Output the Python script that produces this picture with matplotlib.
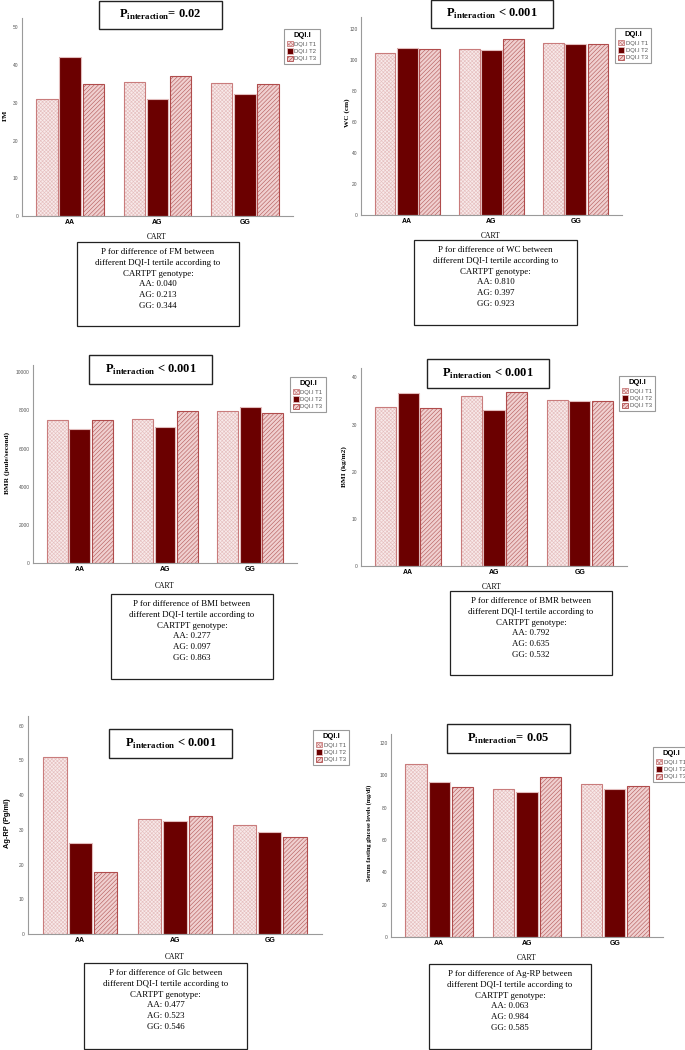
import matplotlib
matplotlib.use('Agg')
import matplotlib.pyplot as plt
import matplotlib.patches as mpatches
import numpy as np

plt.rcParams['hatch.linewidth'] = 0.45
plt.rcParams['mathtext.fontset'] = 'custom'
plt.rcParams['mathtext.bf'] = 'Liberation Serif:bold'
plt.rcParams['mathtext.rm'] = 'Liberation Serif'

W, H = 685, 1050

cats = ['AA', 'AG', 'GG']
tertiles = ['DQI.I T1', 'DQI.I T2', 'DQI.I T3']

# bar heights: rows T1, T2, T3 ; columns AA, AG, GG
fm = [[31.0, 35.6, 35.3], [42.2, 31.0, 32.4], [34.9, 37.2, 34.9]]
wc = [[104.7, 106.9, 110.8], [108.0, 106.5, 110.1], [106.9, 113.3, 110.1]]
bmr = [[7504, 7539, 7975], [7033, 7155, 8202], [7504, 7993, 7853]]
bmi = [[33.7, 36.0, 35.3], [36.8, 33.0, 34.9], [33.5, 37.0, 35.0]]
agrp = [[50.9, 33.2, 31.5], [26.3, 32.6, 29.3], [17.9, 34.1, 27.8]]
glc = [[107.2, 91.5, 94.6], [95.6, 89.9, 91.5], [92.8, 99.0, 93.4]]

ylabels = ['FM', 'WC (cm)', 'BMR (joule/second)', 'BMI (kg/m2)',
           'Ag-RP (Pg/ml)', 'Serum fasting glucose levels (mg/dl)']
yticks = [range(0, 51, 10), range(0, 121, 20), range(0, 10001, 2000),
          range(0, 41, 10), range(0, 61, 10), range(0, 121, 20)]
ymax = [52.5, 127.7, 10384, 42, 62.8, 125.6]
p_inter = ['= 0.02', ' < 0.001', ' < 0.001', ' < 0.001', ' < 0.001', '= 0.05']
diff_names = ['FM', 'WC', 'BMI', 'BMR', 'Glc', 'Ag-RP']
p_diff = [['0.040', '0.213', '0.344'], ['0.810', '0.397', '0.923'],
          ['0.277', '0.097', '0.863'], ['0.792', '0.635', '0.532'],
          ['0.477', '0.523', '0.546'], ['0.063', '0.984', '0.585']]
all_vals = [fm, wc, bmr, bmi, agrp, glc]

# pixel layout of each panel
# axes (x0, x1, ytop, ybot), title box, legend top-left, note box, ylabel centre, CART centre
layout = [
    dict(ax=(22, 293, 18, 216), tb=(99, 222, 1, 29), lg=(284, 29), nb=(77, 239, 242, 326), yl=(5, 115), xl=(157, 237)),
    dict(ax=(361, 622, 17, 215), tb=(431, 553, 0, 28), lg=(615, 28), nb=(414, 577, 240, 325), yl=(347, 113), xl=(491, 236)),
    dict(ax=(33, 297, 365, 563), tb=(89, 212, 355, 384), lg=(290, 377), nb=(111, 273, 594, 679), yl=(7, 463), xl=(165, 586)),
    dict(ax=(361, 627, 368, 566), tb=(427, 549, 359, 388), lg=(619, 376), nb=(450, 612, 591, 675), yl=(344, 467), xl=(492, 587)),
    dict(ax=(28, 322, 716, 934), tb=(109, 232, 729, 758), lg=(313, 730), nb=(84, 247, 963, 1049), yl=(8, 823), xl=(175, 957)),
    dict(ax=(391, 663, 734, 937), tb=(447, 570, 724, 753), lg=(653, 747), nb=(429, 591, 964, 1049), yl=(369, 833), xl=(527, 958)),
]

styles = [
    dict(fc='#f8eaea', hc='#e6c0c0', hatch='xxxxxxxxx', ec='#c97c7c'),
    dict(fc='#6b0000', hc='#6b0000', hatch=None, ec='#e2bcbc'),
    dict(fc='#f0d0d0', hc='#b86262', hatch='////////', ec='#b04c4c'),
]


def fx(x):
    return x / W


def fy(y):
    return 1 - y / H


fig = plt.figure(figsize=(W / 100, H / 100), dpi=100)

for k in range(6):
    L = layout[k]
    x0, x1, yt, yb = L['ax']
    ax = fig.add_axes([fx(x0), fy(yb), (x1 - x0) / W, (yb - yt) / H])
    vals = all_vals[k]
    xs = np.arange(len(cats))
    for i in range(3):
        s = styles[i]
        pos = xs + (i - 1) * 0.265
        ax.bar(pos, vals[i], width=0.245, color=s['fc'], hatch=s['hatch'],
               edgecolor=s['hc'], linewidth=0)
        ax.bar(pos, vals[i], width=0.245, fill=False, edgecolor=s['ec'], linewidth=0.8)
    ax.set_xlim(-0.55, 2.55)
    ax.set_ylim(0, ymax[k])
    ax.set_yticks(list(yticks[k]))
    ax.set_xticks(xs)
    ax.set_xticklabels(cats, fontsize=5, fontweight='bold', family='Liberation Sans')
    ax.tick_params(axis='y', length=0, labelsize=3.5, labelcolor='#555555', pad=2.5)
    ax.tick_params(axis='x', length=0, pad=2.5)
    for t in ax.get_yticklabels():
        t.set_family('Liberation Sans')
    for sp in ['top', 'right']:
        ax.spines[sp].set_visible(False)
    for sp in ['left', 'bottom']:
        ax.spines[sp].set_color('#9a9a9a')
        ax.spines[sp].set_linewidth(0.8)
    ax.set_facecolor('none')

    # y label and x label
    if k == 4:
        fig.text(fx(L['yl'][0]), fy(L['yl'][1]), ylabels[k], rotation=90, ha='center', va='center',
                 fontsize=5.3, fontweight='bold', family='Liberation Sans')
    else:
        fig.text(fx(L['yl'][0]), fy(L['yl'][1]), ylabels[k], rotation=90, ha='center', va='center',
                 fontsize=5.2 if k != 5 else 4.5, fontweight='bold', family='Liberation Serif')
    fig.text(fx(L['xl'][0]), fy(L['xl'][1]), 'CART', ha='center', va='center',
             fontsize=5.5, family='Liberation Serif')

    # interaction title box
    bx0, bx1, by0, by1 = L['tb']
    fig.patches.append(mpatches.Rectangle((fx(bx0), fy(by1)), (bx1 - bx0) / W, (by1 - by0) / H,
                                          transform=fig.transFigure, fill=True, facecolor='white',
                                          edgecolor='#222222', linewidth=1.0))
    fig.text(fx((bx0 + bx1) / 2), fy((by0 + by1) / 2), r'$\mathbf{P}_{\mathbf{interaction}}$' + p_inter[k],
             ha='center', va='center', fontsize=9, fontweight='bold', family='Liberation Serif')

    # note box
    nx0, nx1, ny0, ny1 = L['nb']
    fig.patches.append(mpatches.Rectangle((fx(nx0), fy(ny1)), (nx1 - nx0) / W, (ny1 - ny0) / H,
                                          transform=fig.transFigure, fill=False,
                                          edgecolor='#222222', linewidth=0.9))
    note = ('P for difference of ' + diff_names[k] + ' between\n'
            'different DQI-I tertile according to\n'
            'CARTPT genotype:\n'
            + '\n'.join(c + ': ' + p for c, p in zip(cats, p_diff[k])))
    fig.text(fx((nx0 + nx1) / 2), fy(ny0 + 6), note, ha='center', va='top',
             fontsize=6.4, linespacing=1.47, family='Liberation Serif')

    # legend
    handles = [mpatches.Patch(facecolor=s['fc'], hatch=s['hatch'], edgecolor=s['ec'], linewidth=0.6)
               for s in styles]
    leg = fig.legend(handles, tertiles, loc='upper left', bbox_to_anchor=(fx(L['lg'][0]), fy(L['lg'][1])),
                     prop={'family': 'Liberation Sans', 'size': 4.2}, title='DQI.I',
                     title_fontproperties={'family': 'Liberation Sans', 'weight': 'bold', 'size': 5.5},
                     handlelength=1.0, handleheight=1.0, handletextpad=0.25, borderpad=0.55,
                     labelspacing=0.3, borderaxespad=0, frameon=True, fancybox=False,
                     framealpha=1, edgecolor='#9a9a9a')
    leg.get_frame().set_linewidth(0.8)
    for t in leg.get_texts():
        t.set_color('#555555')

fig.savefig('out.png', dpi=100)
